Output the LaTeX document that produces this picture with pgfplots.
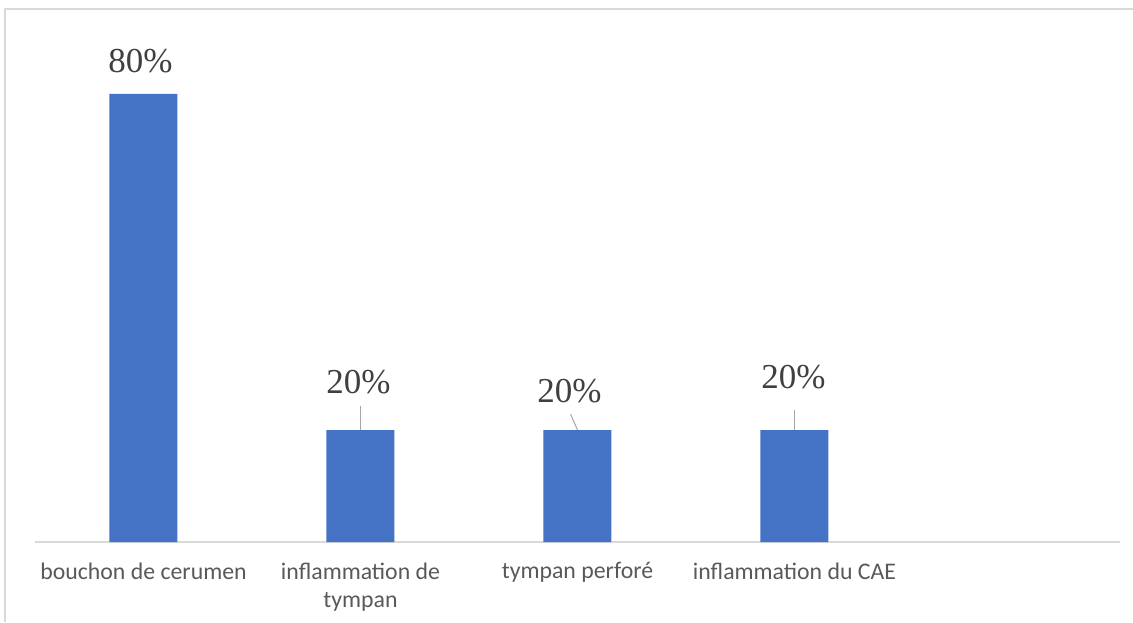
\documentclass[border=0pt]{standalone}
\usepackage{pgfplots}
\pgfplotsset{compat=1.18}
\usepackage{pgfplotstable}
\usepackage{fontspec}
\setmainfont{Liberation Serif}
\newfontfamily\timesf{Liberation Serif}
\newfontfamily\calib{Carlito}
\definecolor{barblue}{HTML}{4472C4}
\definecolor{axgray}{HTML}{D9D9D9}
\definecolor{lblgray}{HTML}{595959}
\definecolor{datgray}{HTML}{404040}
\pgfplotstableread{
x y
0 80
1 20
2 20
3 20
}\datatable
\begin{document}
\begin{tikzpicture}[x=1pt,y=1pt]
\path[use as bounding box] (0,0) rectangle (1133,622);
\draw[axgray, line width=2pt] (5,0) -- (5,613) -- (1140,613);
\begin{axis}[
  at={(35pt,80pt)}, anchor=south west,
  scale only axis, width=1085pt, height=533pt,
  xmin=-0.5, xmax=4.5, ymin=0, ymax=95.18,
  axis x line*=bottom, axis y line=none,
  x axis line style={draw=axgray, line width=1.5pt, -},
  xtick={0,1,2,3}, major tick length=0pt,
  xticklabels={bouchon de cerumen, {inflammation de\\tympan}, tympan perforé, inflammation du CAE},
  xticklabel style={align=center, anchor=north, yshift=-17pt, text=lblgray, font=\calib\fontsize{23.8}{28}\selectfont},
  ytick=\empty,
  clip=false,
]
\addplot[ybar, bar width=68pt, fill=barblue, draw=none] table[x=x, y=y] {\datatable};
\tikzset{dlab/.style={anchor=base, inner sep=0pt, text=datgray, font=\timesf\fontsize{35}{40}\selectfont}}
\node[dlab] at ([xshift=-3pt, yshift=21pt]axis cs:0,80) {80\%};
\node[dlab] at ([xshift=-2pt, yshift=37pt]axis cs:1,20) {20\%};
\node[dlab] at ([xshift=-8pt, yshift=28pt]axis cs:2,20) {20\%};
\node[dlab] at ([xshift=-1pt, yshift=42pt]axis cs:3,20) {20\%};
\draw[gray!70, line width=1pt] (axis cs:1,20) -- ++(0pt,24pt);
\draw[gray!70, line width=1pt] (axis cs:2,20) -- ++(-7pt,16pt);
\draw[gray!70, line width=1pt] (axis cs:3,20) -- ++(0pt,20pt);
\end{axis}
\end{tikzpicture}
\end{document}
